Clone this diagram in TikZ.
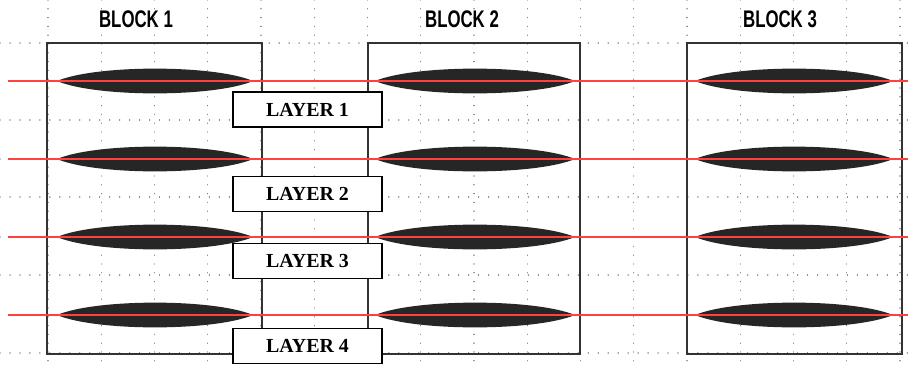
\documentclass[tikz,border=0pt]{standalone}
\usepackage{fontspec}
\setmainfont{Liberation Serif}
\newfontfamily\blockfont[FakeStretch=0.7]{Liberation Sans}

\begin{document}
\begin{tikzpicture}[x=0.03cm, y=-0.03cm,
    gridline/.style={gray, line width=1.2pt, line cap=round, dash pattern=on 0.01pt off 7.5pt},
    gridrow/.style={gray, line width=1.2pt, line cap=round, dash pattern=on 0.01pt off 8.5pt},
    blockframe/.style={black!80, line width=1.1pt},
    lens/.style={fill=black!85},
    redline/.style={red!75!white, line width=0.9pt},
    layerbox/.style={draw=black, line width=1.6pt, fill=white, minimum width=126.7pt, minimum height=29.8pt, inner sep=0pt, font=\fontsize{17}{18}\selectfont\bfseries},
    blocklabel/.style={anchor=base, inner sep=0pt, font=\fontsize{20.5}{22}\selectfont\blockfont\bfseries}]
                    \useasboundingbox (0,0) rectangle (908,365);
                    \fill[white] (0,0) rectangle (908,365);

                    % dotted grid
                    \foreach \k in {0,...,16}
                        \draw[gridline] ({48+53.25*\k},0) -- ({48+53.25*\k},365);
                    \foreach \y in {43,120,159,197,237,275,353}
                        \draw[gridrow] (0,\y) -- (908,\y);

                    % blocks
                    \draw[blockframe] (47,43) rectangle (262,354);
                    \draw[blockframe] (368,43) rectangle (580,354);
                    \draw[blockframe] (687,43) rectangle (902,354);

                    \node[blocklabel] (blk1) at (136,27) {BLOCK 1};
                    \node[blocklabel] (blk2) at (462,27) {BLOCK 2};
                    \node[blocklabel] (blk3) at (780,27) {BLOCK 3};

                    % lenses on the layers
                    \foreach \cx/\hw in {155/98, 475/100, 794/99}
                        \foreach \y in {81,159,237,315}
                            \fill[lens] ({\cx-\hw},\y) .. controls ({\cx-0.6*\hw},{\y-16.5}) and ({\cx+0.6*\hw},{\y-16.5}) .. ({\cx+\hw},\y)
                                .. controls ({\cx+0.6*\hw},{\y+16.5}) and ({\cx-0.6*\hw},{\y+16.5}) .. cycle;

                    \foreach \y in {81,159,237,315}
                        \draw[redline] (8,\y) -- (908,\y);

                    \node[layerbox] (layer1) at (307.5,109.5) {LAYER 1};
                    \node[layerbox] (layer2) at (307.5,194) {LAYER 2};
                    \node[layerbox] (layer3) at (307.5,261) {LAYER 3};
                    \node[layerbox] (layer4) at (307.5,346) {LAYER 4};
                \end{tikzpicture}
\end{document}
